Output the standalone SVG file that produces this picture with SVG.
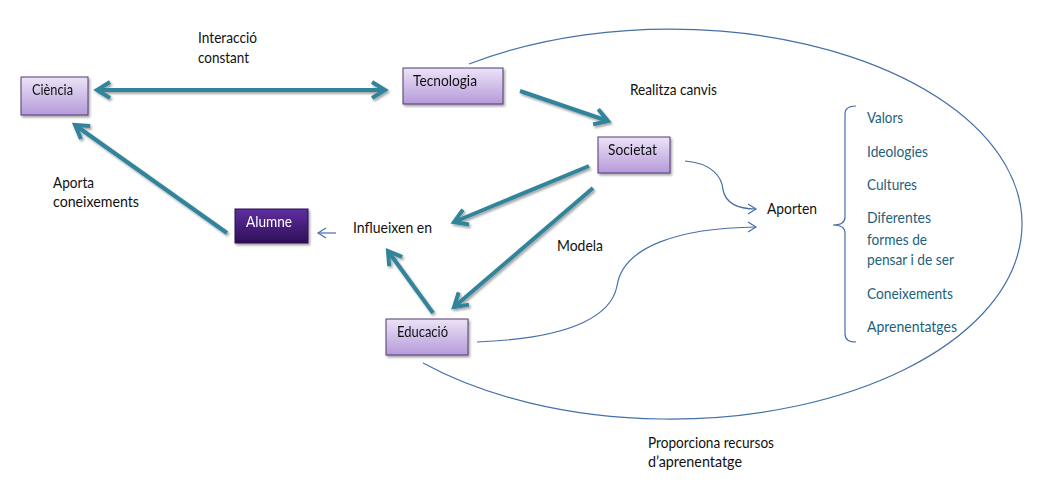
<svg xmlns="http://www.w3.org/2000/svg" width="1044" height="484" viewBox="0 0 1044 484">
<style>
text{font-family:Lato,"Open Sans","Liberation Sans",sans-serif;font-size:14.67px;fill:#111;}
.list{fill:#1E5F7C;}
.wt{fill:#fff;}
.box{fill:url(#lav);stroke:#4E3A73;stroke-width:1;}
.dark{fill:url(#plum);stroke:#2A0F4F;stroke-width:1;}
.teal{fill:none;stroke:#31849B;stroke-width:4;marker-end:url(#th);}
.thin{fill:none;stroke:#4470A8;stroke-width:1.2;}
.thinarr{marker-end:url(#ah);}
</style>
<defs>
<linearGradient id="lav" x1="0" y1="0" x2="0" y2="1">
<stop offset="0" stop-color="#ECE3F7"/>
<stop offset="1" stop-color="#B59AD9"/>
</linearGradient>
<linearGradient id="plum" x1="0" y1="0" x2="0" y2="1">
<stop offset="0" stop-color="#5F2FA0"/>
<stop offset="1" stop-color="#2E0E58"/>
</linearGradient>
<filter id="sh" x="-20%" y="-20%" width="150%" height="160%">
<feDropShadow dx="1.5" dy="2" stdDeviation="1.2" flood-color="#000" flood-opacity="0.35"/>
</filter>
<marker id="th" markerUnits="userSpaceOnUse" viewBox="-16 -10 20 20" refX="0" refY="0" markerWidth="20" markerHeight="20" orient="auto-start-reverse">
<path d="M-13,-8 L0,0 L-13,8" fill="none" stroke="#31849B" stroke-width="4" stroke-linejoin="miter"/>
</marker>
<marker id="ah" markerUnits="userSpaceOnUse" viewBox="-10 -6 12 12" refX="0" refY="0" markerWidth="12" markerHeight="12" orient="auto">
<path d="M-8,-5 L0,0 L-8,5" fill="none" stroke="#4470A8" stroke-width="1.2"/>
</marker>
</defs>
<rect width="1044" height="484" fill="#fff"/>

<g id="connectors">
<g filter="url(#sh)">
<line class="teal" x1="97" y1="90" x2="385" y2="90" marker-start="url(#th)"/>
<line class="teal" x1="520" y1="91" x2="608" y2="121"/>
<line class="teal" x1="589" y1="166" x2="454" y2="222"/>
<line class="teal" x1="593" y1="188" x2="454" y2="307"/>
<line class="teal" x1="433" y1="313" x2="388" y2="251"/>
<line class="teal" x1="227" y1="233" x2="75" y2="125"/>
</g>
<line class="thin thinarr" x1="336" y1="233" x2="318" y2="233"/>
<path class="thin thinarr" d="M685,161 C712,163 722,177 723,190 C726,204 740,209 756,209"/>
<path class="thin thinarr" d="M477,342 C580,338 612,312 617,286 C623,246 680,228 756,227"/>
<path class="thin" d="M469,64 A352 195 0 1 1 423,363"/>
<path class="thin" d="M856,106 Q845,106 845,114 L845,217 Q845,225 833,225 Q845,225 845,233 L845,334 Q845,342 856,342"/>
</g>

<g id="ciencia" filter="url(#sh)">
<rect class="box" x="21" y="77" width="67" height="38"/>
<text x="32" y="95" textLength="41" lengthAdjust="spacingAndGlyphs">Ciència</text>
</g>
<g id="tecnologia" filter="url(#sh)">
<rect class="box" x="403" y="68" width="100" height="36"/>
<text x="413" y="86" textLength="64" lengthAdjust="spacingAndGlyphs">Tecnologia</text>
</g>
<g id="societat" filter="url(#sh)">
<rect class="box" x="598" y="137" width="72" height="36"/>
<text x="608" y="155" textLength="49" lengthAdjust="spacingAndGlyphs">Societat</text>
</g>
<g id="alumne" filter="url(#sh)">
<rect class="dark" x="235" y="209" width="73" height="34"/>
<text class="wt" x="246" y="227" textLength="46" lengthAdjust="spacingAndGlyphs">Alumne</text>
</g>
<g id="educacio" filter="url(#sh)">
<rect class="box" x="386" y="319" width="82" height="36"/>
<text x="397" y="337" textLength="51" lengthAdjust="spacingAndGlyphs">Educació</text>
</g>

<g id="labels">
<text x="198" y="43" textLength="59" lengthAdjust="spacingAndGlyphs">Interacció</text>
<text x="198" y="63" textLength="51" lengthAdjust="spacingAndGlyphs">constant</text>
<text x="630" y="95" textLength="87" lengthAdjust="spacingAndGlyphs">Realitza canvis</text>
<text x="53" y="188" textLength="41" lengthAdjust="spacingAndGlyphs">Aporta</text>
<text x="53" y="207" textLength="86" lengthAdjust="spacingAndGlyphs">coneixements</text>
<text x="353" y="233" textLength="79" lengthAdjust="spacingAndGlyphs">Influeixen en</text>
<text x="557" y="251" textLength="46" lengthAdjust="spacingAndGlyphs">Modela</text>
<text x="767" y="214" textLength="50" lengthAdjust="spacingAndGlyphs">Aporten</text>
<text x="648" y="448" textLength="126" lengthAdjust="spacingAndGlyphs">Proporciona recursos</text>
<text x="648" y="467" textLength="94" lengthAdjust="spacingAndGlyphs">d’aprenentatge</text>
</g>
<g id="list">
<text class="list" x="867" y="123" textLength="36" lengthAdjust="spacingAndGlyphs">Valors</text>
<text class="list" x="867" y="157" textLength="61" lengthAdjust="spacingAndGlyphs">Ideologies</text>
<text class="list" x="867" y="190" textLength="50" lengthAdjust="spacingAndGlyphs">Cultures</text>
<text class="list" x="867" y="223" textLength="64" lengthAdjust="spacingAndGlyphs">Diferentes</text>
<text class="list" x="867" y="245" textLength="60" lengthAdjust="spacingAndGlyphs">formes de</text>
<text class="list" x="867" y="265" textLength="87" lengthAdjust="spacingAndGlyphs">pensar i de ser</text>
<text class="list" x="867" y="299" textLength="86" lengthAdjust="spacingAndGlyphs">Coneixements</text>
<text class="list" x="867" y="332" textLength="90" lengthAdjust="spacingAndGlyphs">Aprenentatges</text>
</g>
</svg>
